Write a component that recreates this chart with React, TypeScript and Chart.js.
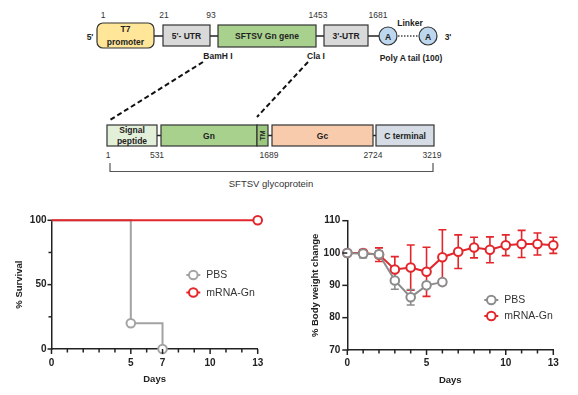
import React, { useEffect, useRef } from "react";
import { Chart, registerables } from "chart.js";

Chart.register(...registerables);

// ---------- DATA ----------
const constructNumbers = ["1", "21", "93", "1453", "1681"];
const proteinNumbers = ["1", "531", "1689", "2724", "3219"];

const survivalDaysPBS = [0, 5, 7];
const survivalPBS = [100, 20, 0];
const survivalDaysGn = [0, 13];
const survivalGn = [100, 100];
const survivalXTicks = [0, 5, 7, 10, 13];
const survivalYTicks = [0, 50, 100];
const survivalYMinor = [25, 75];

const weightDaysPBS = [0, 1, 2, 3, 4, 5, 6];
const weightPBS = [100, 99.8, 99.6, 91.5, 86.3, 90.0, 91.0];
const weightPBSsd = [0, 1.3, 1.0, 2.7, 2.4, 0.8, 0.5];
const weightDaysGn = [0, 1, 2, 3, 4, 5, 6, 7, 8, 9, 10, 11, 12, 13];
const weightGn = [100, 100, 99.5, 94.9, 95.5, 94.2, 98.7, 100.4, 101.7, 101.0, 102.4, 102.8, 102.8, 102.4];
const weightGnSd = [0, 0.8, 2.1, 4.0, 7.0, 7.6, 8.5, 5.2, 3.2, 4.0, 3.2, 4.2, 3.4, 2.5];
const weightXTicks = [0, 5, 10, 13];
const weightYTicks = [70, 80, 90, 100, 110];
const allDays = [0, 1, 2, 3, 4, 5, 6, 7, 8, 9, 10, 11, 12, 13];

const seriesNames = ["PBS", "mRNA-Gn"];

// ---------- STYLE ----------
const FONT = "'Liberation Sans', Arial, sans-serif";
const AXIS = "#222";
const RED = "#E3262B";
const GRAY_L = "#A3A3A3";
const GRAY_R = "#8C8C8C";

const toXY = (xs: number[], ys: number[]) => xs.map((x, i) => ({ x, y: ys[i] }));

const tickPlugin = (xMajor: number[], yMajor: number[], yMinor: number[], yLen: number) => ({
  id: "customTicks",
  afterDraw(chart: any) {
    const { ctx } = chart;
    const x = chart.scales.x;
    const y = chart.scales.y;
    ctx.save();
    ctx.strokeStyle = AXIS;
    ctx.lineWidth = 1.5;
    allDays.forEach((v) => {
      const px = x.getPixelForValue(v);
      const len = xMajor.includes(v) ? 5 : 3.5;
      ctx.beginPath();
      ctx.moveTo(px, x.top);
      ctx.lineTo(px, x.top + len);
      ctx.stroke();
    });
    [...yMajor, ...yMinor].forEach((v) => {
      const py = y.getPixelForValue(v);
      const len = yMajor.includes(v) ? yLen : 3;
      ctx.beginPath();
      ctx.moveTo(y.right, py);
      ctx.lineTo(y.right - len, py);
      ctx.stroke();
    });
    ctx.restore();
  },
});

const errorBarPlugin = {
  id: "errorBars",
  beforeDatasetsDraw(chart: any) {
    const { ctx } = chart;
    const y = chart.scales.y;
    const x = chart.scales.x;
    chart.data.datasets.slice().reverse().forEach((ds: any) => {
      const err: number[] | undefined = ds.errors;
      if (!err) return;
      ctx.save();
      ctx.strokeStyle = ds.borderColor;
      ctx.lineWidth = 1.6;
      ds.data.forEach((p: any, j: number) => {
        const e = err[j];
        if (!e) return;
        const px = x.getPixelForValue(p.x);
        const t = y.getPixelForValue(p.y + e);
        const b = y.getPixelForValue(p.y - e);
        ctx.beginPath();
        ctx.moveTo(px, t);
        ctx.lineTo(px, b);
        ctx.moveTo(px - 4, t);
        ctx.lineTo(px + 4, t);
        ctx.moveTo(px - 4, b);
        ctx.lineTo(px + 4, b);
        ctx.stroke();
      });
      ctx.restore();
    });
  },
};

const legendPlugin = (cx: number, cys: number[], colors: string[]) => ({
  id: "customLegend",
  afterDraw(chart: any) {
    const { ctx } = chart;
    ctx.save();
    seriesNames.forEach((name, i) => {
      const cy = cys[i];
      ctx.strokeStyle = colors[i];
      ctx.lineWidth = 2;
      ctx.beginPath();
      ctx.moveTo(cx - 7, cy);
      ctx.lineTo(cx + 7, cy);
      ctx.stroke();
      ctx.beginPath();
      ctx.arc(cx, cy, 4.3, 0, Math.PI * 2);
      ctx.fillStyle = "#fff";
      ctx.fill();
      ctx.stroke();
      ctx.fillStyle = "#333";
      ctx.font = `10.5px ${FONT}`;
      ctx.textAlign = "left";
      ctx.textBaseline = "middle";
      ctx.fillText(name, cx + 13, cy + 0.5);
    });
    ctx.restore();
  },
});

const tickFont = { family: FONT, size: 10, weight: "bold" as const };
const titleFont = { family: FONT, size: 9.5, weight: "bold" as const };

function SurvivalChart() {
  const ref = useRef<HTMLCanvasElement>(null);
  useEffect(() => {
    const chart = new Chart(ref.current!, {
      type: "line",
      data: {
        datasets: [
          {
            label: seriesNames[1],
            data: toXY(survivalDaysGn, survivalGn),
            borderColor: RED,
            backgroundColor: "#fff",
            borderWidth: 2,
            stepped: "before",
            pointRadius: [0, 4.3],
            pointBorderWidth: 2,
            pointBackgroundColor: "#fff",
            clip: false,
          } as any,
          {
            label: seriesNames[0],
            data: toXY(survivalDaysPBS, survivalPBS),
            borderColor: GRAY_L,
            backgroundColor: "#fff",
            borderWidth: 2,
            stepped: "before",
            pointRadius: [0, 4.3, 4.3],
            pointBorderWidth: 2,
            pointBackgroundColor: "#fff",
            clip: false,
          } as any,
        ],
      },
      options: {
        animation: false,
        responsive: false,
        devicePixelRatio: 1,
        layout: { padding: { left: 0, top: 20.3, right: 32.3, bottom: 0 } },
        plugins: { legend: { display: false }, tooltip: { enabled: false } },
        scales: {
          x: {
            type: "linear",
            min: 0,
            max: 13,
            afterBuildTicks: (s: any) => {
              s.ticks = survivalXTicks.map((v) => ({ value: v }));
            },
            afterFit: (s: any) => {
              s.height = 46;
            },
            grid: { display: false, drawTicks: true, tickLength: 5 },
            border: { color: AXIS, width: 1.5 },
            ticks: { font: tickFont, color: AXIS, padding: 3, maxRotation: 0, autoSkip: false },
            title: { display: true, text: "Days", font: titleFont, color: AXIS, padding: { top: 0, bottom: 10.3 } },
          },
          y: {
            type: "linear",
            min: 0,
            max: 100,
            afterBuildTicks: (s: any) => {
              s.ticks = survivalYTicks.map((v) => ({ value: v }));
            },
            afterFit: (s: any) => {
              s.width = 51.5;
            },
            grid: { display: false, drawTicks: true, tickLength: 4 },
            border: { color: AXIS, width: 1.5 },
            ticks: { font: tickFont, color: AXIS, padding: 1 },
            title: { display: true, text: "% Survival", font: titleFont, color: AXIS, padding: { top: 13.3, bottom: 0 } },
          },
        },
      } as any,
      plugins: [tickPlugin(survivalXTicks, survivalYTicks, survivalYMinor, 4), legendPlugin(193.3, [75, 92.5], [GRAY_L, RED])],
    });
    return () => chart.destroy();
  }, []);
  return <canvas ref={ref} width={290} height={195} />;
}

function WeightChart() {
  const ref = useRef<HTMLCanvasElement>(null);
  useEffect(() => {
    const chart = new Chart(ref.current!, {
      type: "line",
      data: {
        datasets: [
          {
            label: seriesNames[0],
            data: toXY(weightDaysPBS, weightPBS),
            errors: weightPBSsd,
            borderColor: GRAY_R,
            borderWidth: 2,
            pointRadius: 4.3,
            pointBorderWidth: 2,
            pointBackgroundColor: "#fff",
            clip: false,
          } as any,
          {
            label: seriesNames[1],
            data: toXY(weightDaysGn, weightGn),
            errors: weightGnSd,
            borderColor: RED,
            borderWidth: 2,
            pointRadius: 4.3,
            pointBorderWidth: 2,
            pointBackgroundColor: "#fff",
            clip: false,
          } as any,
        ],
      },
      options: {
        animation: false,
        responsive: false,
        devicePixelRatio: 1,
        layout: { padding: { left: 0, top: 20.7, right: 24.7, bottom: 0 } },
        plugins: { legend: { display: false }, tooltip: { enabled: false } },
        scales: {
          x: {
            type: "linear",
            min: 0,
            max: 13,
            afterBuildTicks: (s: any) => {
              s.ticks = weightXTicks.map((v) => ({ value: v }));
            },
            afterFit: (s: any) => {
              s.height = 45;
            },
            grid: { display: false, drawTicks: true, tickLength: 5 },
            border: { color: AXIS, width: 1.5 },
            ticks: { font: tickFont, color: AXIS, padding: 2, maxRotation: 0, autoSkip: false },
            title: { display: true, text: "Days", font: titleFont, color: AXIS, padding: { top: 0, bottom: 9.3 } },
          },
          y: {
            type: "linear",
            min: 70,
            max: 110,
            afterBuildTicks: (s: any) => {
              s.ticks = weightYTicks.map((v) => ({ value: v }));
            },
            afterFit: (s: any) => {
              s.width = 57.3;
            },
            grid: { display: false, drawTicks: true, tickLength: 5 },
            border: { color: AXIS, width: 1.5 },
            ticks: { font: tickFont, color: AXIS, padding: 2 },
            title: { display: true, text: "% Body weight change", font: titleFont, color: AXIS, padding: { top: 19.3, bottom: 0 } },
          },
        },
      } as any,
      plugins: [errorBarPlugin, tickPlugin(weightXTicks, weightYTicks, [], 5), legendPlugin(201.3, [100, 116], [GRAY_R, RED])],
    });
    return () => chart.destroy();
  }, []);
  return <canvas ref={ref} width={288} height={195} />;
}

function Schematic() {
  const bold = { fontFamily: FONT, fontWeight: 700, fontSize: 8.5, fill: "#222" } as any;
  const reg = { fontFamily: FONT, fontWeight: 400, fontSize: 8.5, fill: "#333" } as any;
  const box = { stroke: "#333", strokeWidth: 1.2 };
  const T = (x: number, y: number, s: string, st: any, extra: any = {}) => (
    <text x={x} y={y} textAnchor="middle" dominantBaseline="central" style={st} {...extra}>
      {s}
    </text>
  );
  const topX = [103, 164, 211, 318, 378];
  const botX = [108, 157, 269, 373, 432];
  return (
    <svg width={578} height={200} style={{ position: "absolute", left: 0, top: 0 }}>
      {/* top backbone connectors */}
      <g stroke="#222" strokeWidth={1.5}>
        <line x1={154} y1={36} x2={163} y2={36} />
        <line x1={210} y1={36} x2={218} y2={36} />
        <line x1={316} y1={36} x2={324} y2={36} />
        <line x1={368} y1={36} x2={379} y2={36} />
        <line x1={398} y1={36} x2={419} y2={36} strokeDasharray="1.5 1.5" stroke="#444" />
      </g>
      <rect x={97} y={23} width={57} height={25} rx={6} fill="#FFE699" {...box} />
      <rect x={163} y={25} width={47} height={21} fill="#D9D9D9" {...box} />
      <rect x={218} y={25} width={98} height={22} fill="#A9D18E" {...box} />
      <rect x={324} y={25} width={44} height={21} fill="#D9D9D9" {...box} />
      <circle cx={388} cy={36} r={9} fill="#BDD7EE" {...box} />
      <circle cx={428} cy={36} r={9} fill="#BDD7EE" {...box} />
      {T(125.5, 29, "T7", bold)}
      {T(125.5, 41.5, "promoter", bold)}
      {T(186.5, 36, "5'- UTR", bold)}
      {T(267, 36, "SFTSV Gn gene", bold)}
      {T(346, 36, "3'-UTR", bold)}
      {T(388, 36.5, "A", bold)}
      {T(428, 36.5, "A", bold)}
      {T(90, 37, "5'", bold)}
      {T(448, 37, "3'", bold)}
      {T(410, 23, "Linker", bold)}
      {T(218, 56, "BamH I", bold)}
      {T(316, 56, "Cla I", bold)}
      {T(411, 57.5, "Poly A tail (100)", bold)}
      {constructNumbers.map((n, i) => (
        <React.Fragment key={"t" + i}>{T(topX[i], 15, n, reg)}</React.Fragment>
      ))}
      {/* dashed zoom lines */}
      <g stroke="#111" strokeWidth={2} strokeDasharray="5 3">
        <line x1={203} y1={62} x2={110} y2={120} />
        <line x1={308} y1={62} x2={257} y2={117} />
      </g>
      {/* protein row */}
      <g stroke="#222" strokeWidth={1.5}>
        <line x1={157} y1={135.5} x2={161} y2={135.5} />
        <line x1={268} y1={135.5} x2={272} y2={135.5} />
        <line x1={373} y1={135.5} x2={376} y2={135.5} />
      </g>
      <rect x={107} y={125} width={50} height={21} fill="#E2F0D9" {...box} />
      <rect x={161} y={125} width={96} height={21} fill="#A9D18E" {...box} />
      <rect x={257} y={125} width={11} height={21} fill="#9CC77F" {...box} />
      <rect x={272} y={125} width={101} height={21} fill="#F8CBAD" {...box} />
      <rect x={376} y={125} width={58} height={21} fill="#D6DCE5" {...box} />
      {T(132, 129.5, "Signal", bold)}
      {T(132, 141, "peptide", bold)}
      {T(209, 136, "Gn", bold)}
      {T(262.5, 135.5, "TM", { ...bold, fontSize: 7 }, { transform: "rotate(-90 262.5 135.5)" })}
      {T(322.5, 136, "Gc", bold)}
      {T(405, 136, "C terminal", bold)}
      {proteinNumbers.map((n, i) => (
        <React.Fragment key={"b" + i}>{T(botX[i], 155, n, reg)}</React.Fragment>
      ))}
      <path d="M110 163 V171.5 H433 V163" fill="none" stroke="#555" strokeWidth={1.2} />
      {T(271, 183, "SFTSV glycoprotein", { ...reg, fontSize: 9.5 })}
    </svg>
  );
}

export default function App() {
  return (
    <div
      style={{
        position: "absolute",
        left: 0,
        top: 0,
        width: 578,
        height: 395,
        background: "#fff",
        overflow: "hidden",
      }}
    >
      <Schematic />
      <div style={{ position: "absolute", left: 0, top: 200, width: 290, height: 195 }}>
        <SurvivalChart />
      </div>
      <div style={{ position: "absolute", left: 290, top: 200, width: 288, height: 195 }}>
        <WeightChart />
      </div>
    </div>
  );
}
